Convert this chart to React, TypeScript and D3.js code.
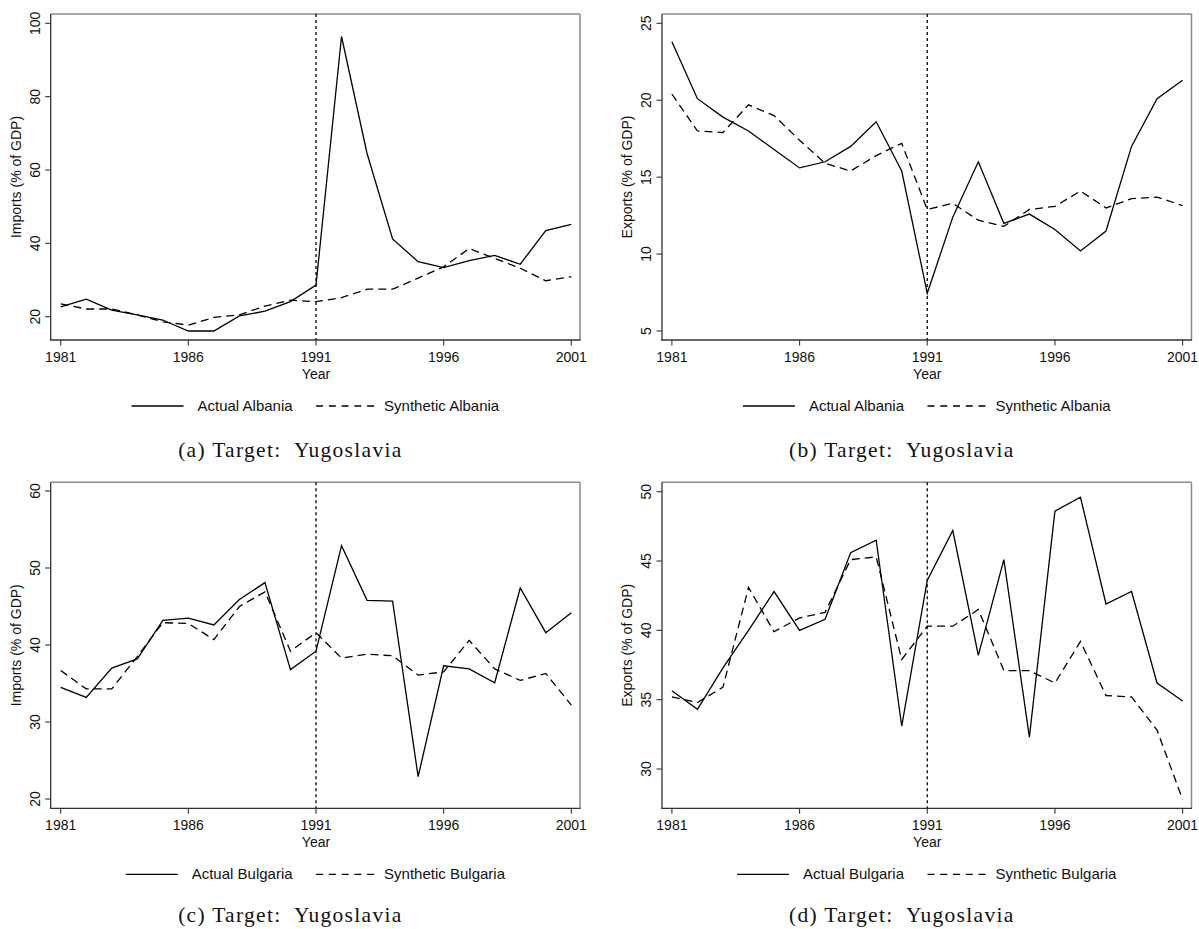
import React, { useEffect, useRef } from 'react';
import * as d3 from 'd3';

const years = [1981, 1982, 1983, 1984, 1985, 1986, 1987, 1988, 1989, 1990, 1991, 1992, 1993, 1994, 1995, 1996, 1997, 1998, 1999, 2000, 2001];
const xTicks = [1981, 1986, 1991, 1996, 2001];
const treatmentYear = 1991;

const importsAlbaniaActual = [22.7, 24.8, 21.8, 20.5, 19.1, 16.1, 16.1, 20.2, 21.5, 24.1, 28.6, 96.4, 64.5, 41.2, 35.0, 33.4, 35.3, 36.7, 34.3, 43.5, 45.2];
const importsAlbaniaSynthetic = [23.5, 22.1, 22.1, 20.5, 18.6, 17.7, 19.8, 20.5, 22.9, 24.5, 24.1, 25.2, 27.5, 27.5, 30.5, 33.6, 38.6, 35.9, 33.2, 29.8, 30.9];
const exportsAlbaniaActual = [23.8, 20.1, 18.9, 18.0, 16.8, 15.6, 16.0, 17.0, 18.6, 15.4, 7.45, 12.4, 16.0, 12.0, 12.6, 11.6, 10.2, 11.5, 17.0, 20.1, 21.3];
const exportsAlbaniaSynthetic = [20.4, 18.0, 17.9, 19.7, 19.0, 17.4, 15.9, 15.4, 16.4, 17.2, 12.9, 13.3, 12.2, 11.8, 12.9, 13.1, 14.1, 13.0, 13.6, 13.7, 13.15];
const importsBulgariaActual = [34.5, 33.2, 37.0, 38.2, 43.2, 43.5, 42.6, 45.9, 48.1, 36.8, 39.2, 52.9, 45.8, 45.7, 22.9, 37.3, 36.9, 35.1, 47.4, 41.6, 44.2];
const importsBulgariaSynthetic = [36.7, 34.3, 34.3, 38.5, 42.9, 42.8, 40.7, 45.0, 46.9, 39.2, 41.6, 38.3, 38.8, 38.6, 36.1, 36.5, 40.6, 36.9, 35.4, 36.3, 32.2];
const exportsBulgariaActual = [35.65, 34.3, 37.3, 40.0, 42.8, 40.0, 40.8, 45.6, 46.5, 33.1, 43.6, 47.2, 38.2, 45.1, 32.3, 48.6, 49.6, 41.9, 42.8, 36.2, 34.9];
const exportsBulgariaSynthetic = [35.2, 34.8, 35.9, 43.1, 39.9, 40.9, 41.3, 45.1, 45.3, 37.9, 40.3, 40.3, 41.5, 37.1, 37.1, 36.2, 39.2, 35.3, 35.2, 32.8, 27.8];

const importsAlbaniaTicks = [20, 40, 60, 80, 100];
const exportsAlbaniaTicks = [5, 10, 15, 20, 25];
const importsBulgariaTicks = [20, 30, 40, 50, 60];
const exportsBulgariaTicks = [30, 35, 40, 45, 50];

const panels = [
  {
    actual: importsAlbaniaActual, synthetic: importsAlbaniaSynthetic, ticks: importsAlbaniaTicks,
    yTitle: 'Imports (% of GDP)', actualLabel: 'Actual Albania', syntheticLabel: 'Synthetic Albania',
    caption: '(a) Target: Yugoslavia',
    frame: { l: 50.7, r: 580, t: 14, b: 340 }, xr: [60.7, 571.3], yd: [20, 100], yr: [316.7, 23.3], captionY: 451,
  },
  {
    actual: exportsAlbaniaActual, synthetic: exportsAlbaniaSynthetic, ticks: exportsAlbaniaTicks,
    yTitle: 'Exports (% of GDP)', actualLabel: 'Actual Albania', syntheticLabel: 'Synthetic Albania',
    caption: '(b) Target: Yugoslavia',
    frame: { l: 662, r: 1191.5, t: 14, b: 340 }, xr: [671.9, 1182.6], yd: [5, 25], yr: [331, 23.3], captionY: 451,
  },
  {
    actual: importsBulgariaActual, synthetic: importsBulgariaSynthetic, ticks: importsBulgariaTicks,
    yTitle: 'Imports (% of GDP)', actualLabel: 'Actual Bulgaria', syntheticLabel: 'Synthetic Bulgaria',
    caption: '(c) Target: Yugoslavia',
    frame: { l: 50.7, r: 580, t: 482.3, b: 808.3 }, xr: [60.7, 571.3], yd: [20, 60], yr: [799, 491], captionY: 916,
  },
  {
    actual: exportsBulgariaActual, synthetic: exportsBulgariaSynthetic, ticks: exportsBulgariaTicks,
    yTitle: 'Exports (% of GDP)', actualLabel: 'Actual Bulgaria', syntheticLabel: 'Synthetic Bulgaria',
    caption: '(d) Target: Yugoslavia',
    frame: { l: 662, r: 1191.5, t: 482.3, b: 808.3 }, xr: [671.9, 1182.6], yd: [30, 50], yr: [769, 491.7], captionY: 916,
  },
];

const SANS = '"Liberation Sans", Arial, Helvetica, sans-serif';
const SERIF = '"Liberation Serif", "DejaVu Serif", serif';

export default function App() {
  const ref = useRef<SVGSVGElement | null>(null);

  useEffect(() => {
    const svg = d3.select(ref.current);
    svg.selectAll('*').remove();

    panels.forEach((p) => {
      const g = svg.append('g');
      const { l, r, t, b } = p.frame;
      const x = d3.scaleLinear().domain([years[0], years[years.length - 1]]).range(p.xr);
      const y = d3.scaleLinear().domain(p.yd).range(p.yr);

      // frame: top/right gray, left/bottom dark
      g.append('line').attr('x1', l).attr('x2', r).attr('y1', t).attr('y2', t)
        .attr('stroke', '#8a8a8a').attr('stroke-width', 1.5);
      g.append('line').attr('x1', r).attr('x2', r).attr('y1', t).attr('y2', b)
        .attr('stroke', '#8a8a8a').attr('stroke-width', 1.5);

      // vertical dotted line at treatment
      g.append('line').attr('x1', x(treatmentYear)).attr('x2', x(treatmentYear))
        .attr('y1', t).attr('y2', b)
        .attr('stroke', '#000').attr('stroke-width', 1.3).attr('stroke-dasharray', '3,3');

      const line = d3.line<number>()
        .x((_, i) => x(years[i]))
        .y((d) => y(d));

      g.append('path').datum(p.synthetic).attr('d', line).attr('fill', 'none')
        .attr('stroke', '#000').attr('stroke-width', 1.3).attr('stroke-dasharray', '8,5');
      g.append('path').datum(p.actual).attr('d', line).attr('fill', 'none')
        .attr('stroke', '#000').attr('stroke-width', 1.3);

      g.append('line').attr('x1', l).attr('x2', l).attr('y1', t).attr('y2', b + 0.6)
        .attr('stroke', '#333').attr('stroke-width', 1.3);
      g.append('line').attr('x1', l - 0.6).attr('x2', r + 0.6).attr('y1', b).attr('y2', b)
        .attr('stroke', '#333').attr('stroke-width', 1.3);

      // x ticks
      xTicks.forEach((yr) => {
        g.append('line').attr('x1', x(yr)).attr('x2', x(yr)).attr('y1', b).attr('y2', b + 5.5)
          .attr('stroke', '#333').attr('stroke-width', 1.1);
        g.append('text').attr('x', x(yr)).attr('y', b + 22).attr('text-anchor', 'middle')
          .attr('font-family', SANS).attr('font-size', 14).attr('fill', '#111').text(String(yr));
      });
      g.append('text').attr('x', x(treatmentYear)).attr('y', b + 38.5).attr('text-anchor', 'middle')
        .attr('font-family', SANS).attr('font-size', 14).attr('fill', '#111').text('Year');

      // y ticks
      p.ticks.forEach((v) => {
        g.append('line').attr('x1', l - 5.5).attr('x2', l).attr('y1', y(v)).attr('y2', y(v))
          .attr('stroke', '#333').attr('stroke-width', 1.1);
        g.append('text').attr('transform', `translate(${l - 10.7},${y(v)}) rotate(-90)`)
          .attr('text-anchor', 'middle')
          .attr('font-family', SANS).attr('font-size', 14).attr('fill', '#111').text(String(v));
      });
      g.append('text').attr('transform', `translate(${l - 29.7},${(t + b) / 2}) rotate(-90)`)
        .attr('text-anchor', 'middle')
        .attr('font-family', SANS).attr('font-size', 14).attr('fill', '#111').text(p.yTitle);

      // legend
      const ly = b + 66;
      const cx = (l + r) / 2;
      const lg = g.append('g');
      const t1 = lg.append('text').attr('font-family', SANS).attr('font-size', 15).attr('fill', '#111')
        .attr('y', ly + 5).text(p.actualLabel);
      const t2 = lg.append('text').attr('font-family', SANS).attr('font-size', 15).attr('fill', '#111')
        .attr('y', ly + 5).text(p.syntheticLabel);
      const w1 = (t1.node() as SVGTextElement).getComputedTextLength();
      const w2 = (t2.node() as SVGTextElement).getComputedTextLength();
      const key1 = 52, gap1 = 14, mid = 23.5, key2 = 58, gap2 = 10;
      const total = key1 + gap1 + w1 + mid + key2 + gap2 + w2;
      let sx = cx - total / 2;
      lg.append('line').attr('x1', sx).attr('x2', sx + key1).attr('y1', ly).attr('y2', ly)
        .attr('stroke', '#000').attr('stroke-width', 1.3);
      t1.attr('x', sx + key1 + gap1);
      sx += key1 + gap1 + w1 + mid;
      lg.append('line').attr('x1', sx).attr('x2', sx + key2).attr('y1', ly).attr('y2', ly)
        .attr('stroke', '#000').attr('stroke-width', 1.3).attr('stroke-dasharray', '7,5.75');
      t2.attr('x', sx + key2 + gap2);

      // caption
      g.append('text').attr('x', cx - 25).attr('y', p.captionY + 6).attr('text-anchor', 'middle')
        .attr('font-family', SERIF).attr('font-size', 21.5).attr('letter-spacing', 1.3).attr('fill', '#111')
        .attr('style', 'white-space: pre')
        .text(p.caption.replace(': ', ':  '));
    });
  }, []);

  return (
    <svg ref={ref} width={1199} height={929} style={{ display: 'block', position: 'absolute', left: 0, top: 0, background: '#fff' }} />
  );
}
